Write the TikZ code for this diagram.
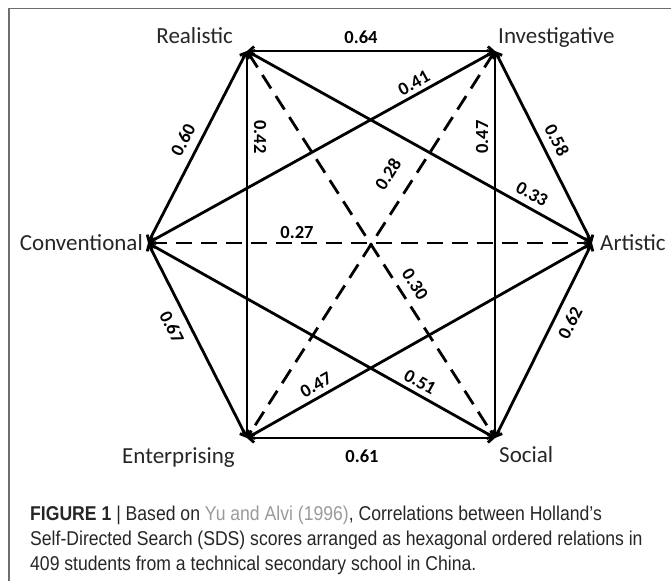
\documentclass[tikz,border=0pt]{standalone}
\usepackage{fontspec}
\setmainfont{Carlito}
\newfontfamily\capfont[FakeStretch=0.88]{Liberation Sans}
\usetikzlibrary{arrows.meta}
\definecolor{framegray}{HTML}{6E6E6E}
\definecolor{citegray}{HTML}{9A9A9A}
\definecolor{captext}{HTML}{262626}

\tikzset{
  trait/.style={font=\fontsize{23}{27}\selectfont, text=black!85, inner sep=0pt},
  corr/.style={font=\fontsize{18.5}{20}\selectfont\bfseries, inner sep=0pt},
  link/.style={line width=2.8pt,
    arrows={Straight Barb[length=5pt,width=9pt]-Straight Barb[length=5pt,width=9pt]}},
  weak/.style={link, dash pattern=on 16pt off 9pt},
  capline/.style={anchor=base west, inner sep=0pt, text=captext,
    font=\capfont\fontsize{20}{25}\selectfont},
}

\begin{document}
\begin{tikzpicture}[x=1pt,y=-1pt]
  \useasboundingbox (0,0) rectangle (671,581);
  \draw[framegray, line width=1.2pt] (9,581) -- (9,8.5) -- (671,8.5);

  % corners of the hexagon
  \coordinate (R) at (247,51);
  \coordinate (I) at (495,51);
  \coordinate (A) at (592,243);
  \coordinate (S) at (495,438);
  \coordinate (E) at (247,438);
  \coordinate (C) at (148,243);

  \node[trait, anchor=base east] (real) at (233,43) {Realistic};
  \node[trait, anchor=base west] (inv) at (498,43) {Investigative};
  \node[trait, anchor=base west] (art) at (600,250) {Artistic};
  \node[trait, anchor=base west] (soc) at (499,462) {Social};
  \node[trait, anchor=base east] (ent) at (235,463) {Enterprising};
  \node[trait, anchor=base east] (conv) at (143,250.5) {Conventional};

  % outer ring
  \draw[link] (R) -- (I);
  \draw[link] (I) -- (A);
  \draw[link] (A) -- (S);
  \draw[link] (S) -- (E);
  \draw[link] (E) -- (C);
  \draw[link] (C) -- (R);

  % skipping one corner
  \draw[link] (R) -- (E);
  \draw[link] (I) -- (S);
  \draw[link] (R) -- (A);
  \draw[link] (I) -- (C);
  \draw[link] (C) -- (S);
  \draw[link] (A) -- (E);

  % opposite corners
  \draw[weak] (C) -- (A);
  \draw[weak] (R) -- (S);
  \draw[weak] (I) -- (E);

  \node[corr] (ri) at (361,37) {0.64};
  \node[corr, rotate=62.7] (cr) at (183,140) {0.60};
  \node[corr, rotate=-90] (re) at (260,137) {0.42};
  \node[corr, rotate=29] (ci) at (414,83) {0.41};
  \node[corr, rotate=90] (is) at (482,137) {0.47};
  \node[corr, rotate=-63] (ia) at (557,140) {0.58};
  \node[corr, rotate=57.3] (ie) at (388,174) {0.28};
  \node[corr, rotate=-29] (ra) at (532,194) {0.33};
  \node[corr] (ca) at (297,232) {0.27};
  \node[corr, rotate=-57.3] (rs) at (415,284) {0.30};
  \node[corr, rotate=-63] (ce) at (172,327) {0.67};
  \node[corr, rotate=63] (as) at (570,323) {0.62};
  \node[corr, rotate=29.5] (ae) at (316,385) {0.47};
  \node[corr, rotate=-29] (cs) at (420,382) {0.51};
  \node[corr] (se) at (362,456) {0.61};

  \node[capline] (cap1) at (30,520) {\textbf{FIGURE 1} | Based on \textcolor{citegray}{Yu and Alvi (1996)}, Correlations between Holland’s};
  \node[capline] (cap2) at (30,545) {Self-Directed Search (SDS) scores arranged as hexagonal ordered relations in};
  \node[capline] (cap3) at (30,570) {409 students from a technical secondary school in China.};
\end{tikzpicture}
\end{document}
